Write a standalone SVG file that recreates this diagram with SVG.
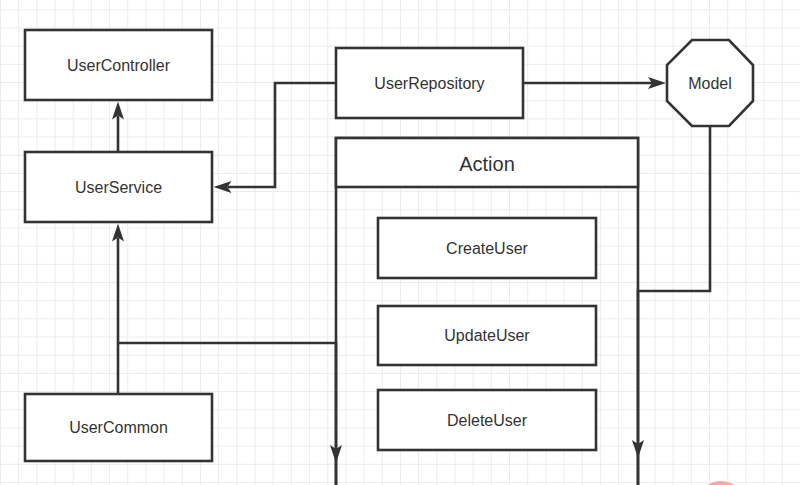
<svg xmlns="http://www.w3.org/2000/svg" width="800" height="485" viewBox="0 0 800 485">
  <defs>
    <pattern id="grid" patternUnits="userSpaceOnUse" x="0" y="9.3" width="18.18" height="18.18">
      <path d="M0.5,0 V18.18 M0,0.5 H18.18" fill="none" stroke="#ebebeb" stroke-width="1"/>
    </pattern>
    <path id="ah" d="M0,0 L-18,-6 L-14,0 L-18,6 Z" fill="#333"/>
  </defs>
  <style>
    .box { fill: #ffffff; stroke: #333; stroke-width: 2.6; }
    .lbl { font-family: "Liberation Sans", Arial, sans-serif; font-size: 16px; fill: #333; text-anchor: middle; }
    .ttl { font-family: "Liberation Sans", Arial, sans-serif; font-size: 20px; fill: #333; text-anchor: middle; }
    .edge { fill: none; stroke: #333; stroke-width: 2.6; }
  </style>
  <rect x="0" y="0" width="800" height="485" fill="#ffffff"/>
  <rect x="0" y="0" width="800" height="485" fill="url(#grid)"/>
  <circle cx="721" cy="505" r="24" fill="#f5a9a9"/>

  <g id="Action">
    <path class="edge" d="M336,485 V138 H638 V485"/>
    <rect class="box" x="336" y="138" width="302" height="49"/>
    <text class="ttl" x="487" y="170.5">Action</text>
  </g>

  <g id="connectors">
    <path class="edge" d="M118,152 V116"/>
    <use href="#ah" transform="translate(118,101.5) rotate(-90)"/>
    <path class="edge" d="M336,83 H275 V187 H228"/>
    <use href="#ah" transform="translate(213.5,187) rotate(180)"/>
    <path class="edge" d="M523,83 H652"/>
    <use href="#ah" transform="translate(666,83)"/>
    <path class="edge" d="M118,394 V238"/>
    <use href="#ah" transform="translate(118,223.5) rotate(-90)"/>
    <path class="edge" d="M118,343 H336 V485"/>
    <use href="#ah" transform="translate(336,463) rotate(90)"/>
    <path class="edge" d="M710,126 V291 H638 V485"/>
    <use href="#ah" transform="translate(638,458) rotate(90)"/>
  </g>

  <g id="UserController">
    <rect class="box" x="25" y="30" width="187" height="70"/>
    <text class="lbl" x="118.5" y="70.8">UserController</text>
  </g>
  <g id="UserService">
    <rect class="box" x="25" y="152" width="187" height="70"/>
    <text class="lbl" x="118.5" y="192.8">UserService</text>
  </g>
  <g id="UserRepository">
    <rect class="box" x="336" y="48" width="187" height="70"/>
    <text class="lbl" x="429.5" y="88.8">UserRepository</text>
  </g>
  <g id="Model">
    <polygon class="box" points="692,40 729,40 753,65 753,101 729,126 692,126 667,101 667,65"/>
    <text class="lbl" x="710" y="88.8">Model</text>
  </g>
  <g id="CreateUser">
    <rect class="box" x="378" y="218" width="218" height="60"/>
    <text class="lbl" x="487" y="253.8">CreateUser</text>
  </g>
  <g id="UpdateUser">
    <rect class="box" x="378" y="306" width="218" height="59"/>
    <text class="lbl" x="487" y="341.3">UpdateUser</text>
  </g>
  <g id="DeleteUser">
    <rect class="box" x="378" y="390" width="218" height="60"/>
    <text class="lbl" x="487" y="425.8">DeleteUser</text>
  </g>
  <g id="UserCommon">
    <rect class="box" x="25" y="394" width="187" height="67"/>
    <text class="lbl" x="118.5" y="433.3">UserCommon</text>
  </g>
</svg>
